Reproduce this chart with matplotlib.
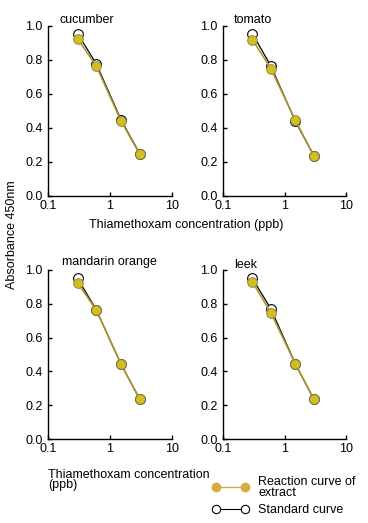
import matplotlib
matplotlib.use("Agg")
import matplotlib.pyplot as plt
from matplotlib.lines import Line2D

conc = [0.3, 0.6, 1.5, 3.0]
panels = ["cucumber", "tomato", "mandarin orange", "leek"]
standard = {
    "cucumber": [0.955, 0.778, 0.45, 0.25],
    "tomato": [0.955, 0.765, 0.44, 0.237],
    "mandarin orange": [0.95, 0.765, 0.444, 0.237],
    "leek": [0.95, 0.77, 0.445, 0.235],
}
extract = {
    "cucumber": [0.925, 0.765, 0.443, 0.247],
    "tomato": [0.92, 0.75, 0.445, 0.237],
    "mandarin orange": [0.925, 0.763, 0.444, 0.237],
    "leek": [0.93, 0.747, 0.445, 0.235],
}
yticks = [0.0, 0.2, 0.4, 0.6, 0.8, 1.0]
xticks = [0.1, 1, 10]
xtick_labels = ["0.1", "1", "10"]

W, H = 368, 523
fig = plt.figure(figsize=(W / 100, H / 100), dpi=100)
plt.rcParams['font.family'] = ['Liberation Sans', 'DejaVu Sans']

# axes boxes in pixel coords (left, top, right, bottom)
boxes = [
    (48, 26, 172, 196),
    (223, 26, 346, 196),
    (48, 270, 172, 439),
    (223, 270, 346, 439),
]
title_pos = [(60, 23), (234, 23), (62, 265), (234, 268)]

fill_col = "#d2bd22"
line_col = "#ad9632"
fs = 9

for name, (l, t, r, b), (tx, ty) in zip(panels, boxes, title_pos):
    ax = fig.add_axes([l / W, 1 - b / H, (r - l) / W, (b - t) / H])
    ax.set_xscale("log")
    ax.set_xlim(0.1, 10)
    ax.set_ylim(0, 1.0)
    ax.plot(conc, standard[name], color="black", lw=0.9, marker="o", ms=7,
            mfc="white", mec="black", mew=0.8, zorder=2)
    ax.plot(conc, extract[name], color=line_col, lw=1.2, marker="o", ms=7,
            mfc=fill_col, mec="#8a8040", mew=0.6, zorder=3)
    ax.set_xticks(xticks)
    ax.set_xticklabels(xtick_labels)
    ax.set_yticks(yticks)
    ax.set_yticklabels([f"{v:.1f}" for v in yticks])
    ax.minorticks_off()
    for s in ["top", "right"]:
        ax.spines[s].set_visible(False)
    for s in ["left", "bottom"]:
        ax.spines[s].set_linewidth(1.0)
    ax.tick_params(direction="in", length=3, width=1.0, labelsize=fs, pad=3)
    ax.tick_params(axis="y", pad=4)
    ax.patch.set_alpha(0)
    fig.text(tx / W, 1 - ty / H, name, fontsize=fs, ha="left", va="baseline")

fig.text(186 / W, 1 - 225 / H, "Thiamethoxam concentration (ppb)", fontsize=fs,
         ha="center", va="center")
fig.text(48 / W, 1 - 480 / H, "Thiamethoxam concentration\n(ppb)", fontsize=fs,
         ha="left", va="center", linespacing=0.85)
fig.text(12 / W, 1 - 235 / H, "Absorbance 450nm", fontsize=fs, rotation=90,
         ha="center", va="center")

handles = [
    Line2D([], [], color="#d4a93c", lw=1.0, marker="o", ms=6, mfc="#d9aa3e",
           mec="#d9aa3e"),
    Line2D([], [], color="black", lw=0.8, marker="o", ms=6, mfc="white",
           mec="black", mew=0.8),
]
fig.legend(handles, ["Reaction curve of\nextract", "Standard curve"],
           loc="upper left", bbox_to_anchor=(212 / W, 1 - 476 / H),
           frameon=False, fontsize=fs, handlelength=2.9, handletextpad=0.8,
           labelspacing=0.45, borderaxespad=0, borderpad=0,
           numpoints=2)
for t in fig.legends[0].get_texts():
    t.set_linespacing(0.85)

fig.savefig("out.png", dpi=100)
